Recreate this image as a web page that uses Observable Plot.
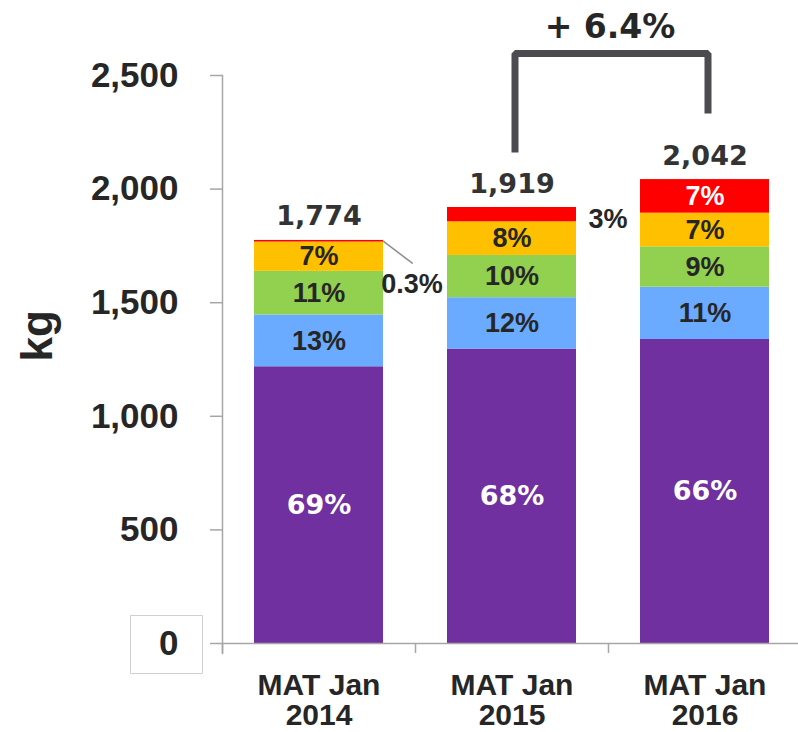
<!DOCTYPE html>
<html>
<head>
<meta charset="utf-8">
<script src="https://cdn.jsdelivr.net/npm/d3@7"></script>
<script src="https://cdn.jsdelivr.net/npm/@observablehq/plot@0.6"></script>
<style>
  body { margin: 0; background: #fff; overflow: hidden; }
  g[aria-label="purple-pct"] text { letter-spacing: 1.5px; }
  g[aria-label="totals"] text { letter-spacing: 0.8px; }
</style>
</head>
<body>
<div id="chart"></div>
<script>
// ---- data ----
const periods = ["MAT Jan 2014", "MAT Jan 2015", "MAT Jan 2016"];
const segments = ["Segment 1", "Segment 2", "Segment 3", "Segment 4", "Segment 5"];
const seg1Kg = [1218, 1296, 1338];
const seg2Kg = [228, 226, 230];
const seg3Kg = [192, 186, 178];
const seg4Kg = [129, 148, 148];
const seg5Kg = [7, 63, 148];
const seg1Pct = ["69%", "68%", "66%"];
const seg2Pct = ["13%", "12%", "11%"];
const seg3Pct = ["11%", "10%", "9%"];
const seg4Pct = ["7%", "8%", "7%"];
const seg5Pct = ["0.3%", "3%", "7%"];
const totals = [1774, 1919, 2042];
const yTicks = [0, 500, 1000, 1500, 2000, 2500];
const yLabel = "kg";
const growthLabel = "+ 6.4%";
const bracketFeetKg = [2161, 2333];   // left (2015) and right (2016) foot of the bracket
const bracketTopKg = 2597;

// ---- palette ----
const segColors = ["#7030A0", "#6AABFF", "#92D050", "#FFC000", "#FF0000"];
const labelColors = ["#ffffff", "#262626", "#262626", "#262626", "#ffffff"];
const axisGray = "#a6a6a6";
const textDark = "#262626";

const kgBySeg = [seg1Kg, seg2Kg, seg3Kg, seg4Kg, seg5Kg];
const pctBySeg = [seg1Pct, seg2Pct, seg3Pct, seg4Pct, seg5Pct];

const rows = [];
segments.forEach((s, si) => {
  periods.forEach((p, pi) => {
    rows.push({period: p, segment: s, si, kg: kgBySeg[si][pi], pct: pctBySeg[si][pi],
               color: segColors[si], labelColor: labelColors[si]});
  });
});
const totalRows = periods.map((p, i) => ({period: p, total: totals[i]}));
const smallTop = periods.map((p, i) => ({period: p, total: totals[i], kg: seg5Kg[i], pct: seg5Pct[i]}));
const bracket = [
  {period: periods[1], kg: bracketFeetKg[0]},
  {period: periods[1], kg: bracketTopKg},
  {period: periods[2], kg: bracketTopKg},
  {period: periods[2], kg: bracketFeetKg[1]}
];
const fmt = d3.format(",");

const boxSymbol = {draw(ctx) { ctx.rect(-36, -29, 72, 58); }};
const leaderShape = {draw(ctx, l) { ctx.moveTo(0, 0); ctx.lineTo(0, -l); }};

function build(step) {
  return Plot.plot({
    width: 798,
    height: 732,
    marginLeft: 222,
    marginRight: -4,
    marginTop: 75,
    marginBottom: 89,
    style: {background: "#fff", color: textDark, fontFamily: "'Liberation Sans', Arial, sans-serif", overflow: "visible"},
    x: {type: "band", domain: periods, paddingInner: 0.33, paddingOuter: 0.165, axis: null, label: null},
    y: {domain: [0, 2500], axis: null, label: null},
    color: {type: "identity"},
    marks: [
      Plot.barY(rows, {x: "period", y: "kg", fill: "color"}),
      // y axis
      Plot.frame({anchor: "left", insetBottom: -10, stroke: axisGray, strokeWidth: 1.5}),
      Plot.axisY({ticks: yTicks, tickSize: 12, tickPadding: 32, tickFormat: fmt,
                  fontSize: 35, fontWeight: "bold", stroke: axisGray, strokeWidth: 1.5, fill: textDark, label: null}),
      Plot.dot([0], {y: d => d, frameAnchor: "left", dx: -56, dy: 1, symbol: boxSymbol, r: 1,
                     stroke: "#d0d0d0", strokeWidth: 1, fill: "none"}),
      Plot.text([yLabel], {text: d => d, frameAnchor: "left", dx: -185, dy: 2, rotate: -90,
                           fontSize: 44, fontWeight: "bold", fill: textDark}),
      // x axis
      Plot.ruleY([0], {stroke: axisGray, strokeWidth: 1.5}),
      Plot.ruleX(periods, {x: d => d, y1: () => 0, y2: () => 0, insetTop: 0, insetBottom: -10,
                           dx: -step / 2, stroke: axisGray, strokeWidth: 1.5}),
      Plot.axisX({tickSize: 0, tickPadding: 30, fontSize: 30, fontWeight: "bold", lineHeight: 1.0,
                  fill: textDark, label: null,
                  tickFormat: d => d.replace(/ (\d{4})$/, "\n$1")}),
      // segment labels
      Plot.text(rows, Plot.stackY({x: "period", y: "kg", z: "segment",
        text: d => d.si === 0 ? d.pct : null,
        fill: "#ffffff", fontFamily: "'DejaVu Sans', Verdana, sans-serif", fontWeight: "bold", fontSize: 27,
        ariaLabel: "purple-pct"})),
      Plot.text(rows, Plot.stackY({x: "period", y: "kg", z: "segment",
        text: d => (d.si > 0 && d.kg >= 100) ? d.pct : null,
        fill: "labelColor", fontWeight: "bold", fontSize: 27})),
      // labels for thin top segments
      Plot.text([smallTop[0]], {x: "period", y: "total", text: "pct", dx: 93, dy: 44,
        fontWeight: "bold", fontSize: 27, fill: textDark}),
      Plot.vector([smallTop[0]], {x: "period", y: "total", dx: 64.5, dy: 1, length: 36, rotate: 127,
        anchor: "start", shape: leaderShape, stroke: "#8c8c8c", strokeWidth: 1.5, fill: "none"}),
      Plot.text([smallTop[1]], {x: "period", y: "total", text: "pct", dx: 96, dy: 12,
        fontWeight: "bold", fontSize: 27, fill: textDark}),
      // totals
      Plot.text(totalRows, {x: "period", y: "total", text: d => fmt(d.total), lineAnchor: "bottom", dy: -15,
        fontFamily: "'DejaVu Sans', Verdana, sans-serif", fontWeight: "bold", fontSize: 27, fill: "#333333",
        ariaLabel: "totals"}),
      // growth bracket
      Plot.line(bracket, {x: "period", y: "kg", dx: 3, stroke: "#4b4b50", strokeWidth: 7,
        strokeLinejoin: "miter", strokeLinecap: "butt", curve: "linear"}),
      Plot.text([growthLabel], {x: () => periods[2], y: () => bracketTopKg, text: d => d, dx: -95, dy: -15,
        lineAnchor: "bottom", fontFamily: "'DejaVu Sans', Verdana, sans-serif", fontWeight: "bold",
        fontSize: 33, fill: textDark})
    ]
  });
}

const probe = build(0);
const step = probe.scale("x").step;
document.getElementById("chart").appendChild(build(step));
</script>
</body>
</html>
